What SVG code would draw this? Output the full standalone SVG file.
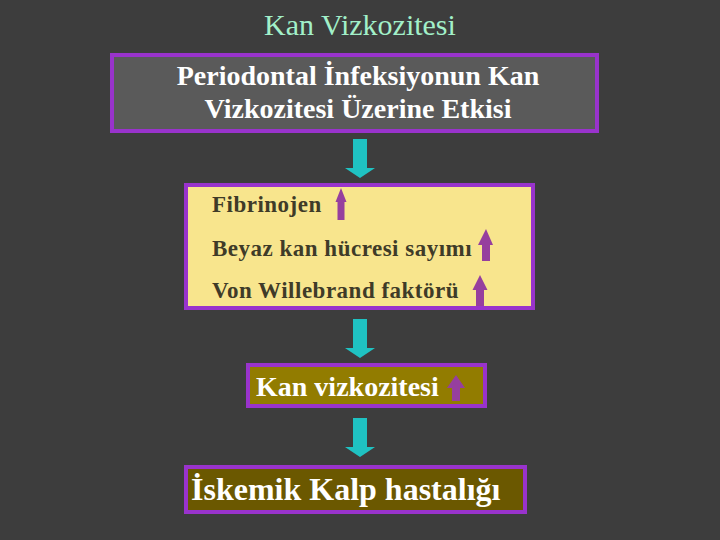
<svg xmlns="http://www.w3.org/2000/svg" width="720" height="540" viewBox="0 0 720 540">
<style>
.box{stroke:#9933cc;stroke-width:4}
text{font-family:'Liberation Serif','DejaVu Serif',serif}
.wt{fill:#ffffff;font-weight:bold}
.dk{fill:#3f3b28;font-weight:bold;font-size:23px;letter-spacing:0.5px}
.up{fill:#963f9e}
.down{fill:#1fc2c2}
</style>
<defs>
<polygon id="dn" points="-7,0 7,0 7,29 15,29 0,39 -15,29 -7,29"/>
</defs>
<rect width="720" height="540" fill="#3d3d3d"/>
<text x="360" y="35" text-anchor="middle" font-size="30" fill="#a2f0c9">Kan Vizkozitesi</text>

<g id="node-etki">
<rect class="box" x="112" y="55" width="485" height="76" fill="#5a5a5a"/>
<text class="wt" font-size="28" text-anchor="middle" x="358" y="85">Periodontal İnfeksiyonun Kan</text>
<text class="wt" font-size="28" text-anchor="middle" x="358" y="118">Vizkozitesi Üzerine Etkisi</text>
</g>

<g id="node-faktorler">
<rect class="box" x="186" y="185" width="347" height="123" fill="#f8e58d"/>
<text class="dk" x="212" y="212">Fibrinojen</text>
<polygon class="up" points="341,188 346.5,202 344.5,202 344.5,220 337.5,220 337.5,202 335.5,202"/>
<text class="dk" x="212" y="256">Beyaz kan hücresi sayımı</text>
<polygon class="up" points="486,229 493,245 490,245 490,261 482,261 482,245 478,245"/>
<text class="dk" x="212" y="298">Von Willebrand faktörü</text>
<polygon class="up" points="480,275 487.5,290 484,290 484,306 476,306 476,290 472.5,290"/>
</g>

<g id="node-vizkozite">
<rect class="box" x="248" y="365" width="237" height="41" fill="#927c00"/>
<text class="wt" font-size="28" x="256" y="396">Kan vizkozitesi</text>
<polygon class="up" points="456,375 465,388 460,388 460,401 452,401 452,388 447,388"/>
</g>

<g id="node-iskemik">
<rect class="box" x="186" y="467" width="339" height="45" fill="#6b5800"/>
<text class="wt" font-size="32" x="191" y="500">İskemik Kalp hastalığı</text>
</g>

<g id="connectors" class="down">
<use href="#dn" x="360" y="139"/>
<use href="#dn" x="360" y="319"/>
<use href="#dn" x="360" y="418"/>
</g>
</svg>
